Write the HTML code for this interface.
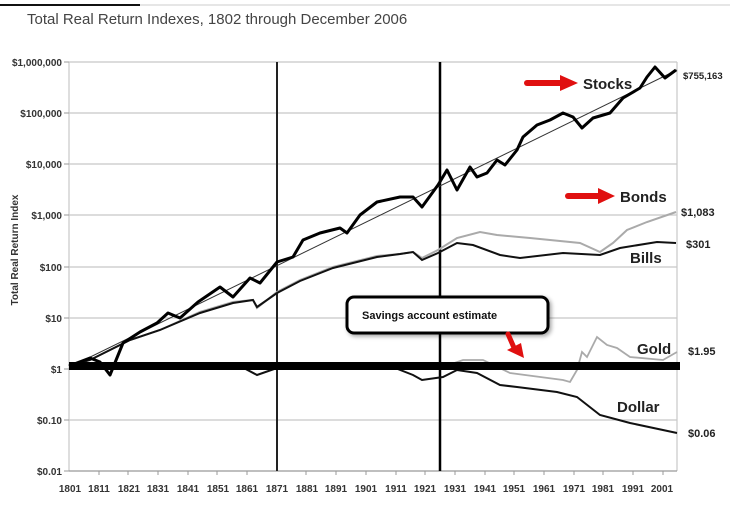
<!DOCTYPE html>
<html><head><meta charset="utf-8"><style>
html,body{margin:0;padding:0;background:#fff;}
svg{display:block;font-family:"Liberation Sans",Arial,sans-serif;}
</style></head><body>
<svg width="730" height="507" viewBox="0 0 730 507" xmlns="http://www.w3.org/2000/svg">
<defs><filter id="sh" x="-10%" y="-30%" width="130%" height="180%"><feDropShadow dx="2" dy="2" stdDeviation="2" flood-color="#000" flood-opacity="0.35"/></filter></defs>
<line x1="0" y1="5" x2="140" y2="5" stroke="#111" stroke-width="2"/>
<line x1="140" y1="5" x2="730" y2="5" stroke="#ccc" stroke-width="1"/>
<text x="27" y="24" font-size="15" fill="#444">Total Real Return Indexes, 1802 through December 2006</text>
<g stroke="#c8c8c8" stroke-width="1.2">
<line x1="69" y1="62" x2="677" y2="62"/><line x1="69" y1="113" x2="677" y2="113"/>
<line x1="69" y1="164" x2="677" y2="164"/><line x1="69" y1="215" x2="677" y2="215"/>
<line x1="69" y1="267" x2="677" y2="267"/><line x1="69" y1="318" x2="677" y2="318"/>
<line x1="69" y1="369" x2="677" y2="369"/><line x1="69" y1="420" x2="677" y2="420"/>
<line x1="69" y1="62" x2="69" y2="471"/><line x1="677" y1="62" x2="677" y2="471"/>
</g>
<line x1="69" y1="471" x2="677" y2="471" stroke="#999" stroke-width="1.2"/>
<g stroke="#999" stroke-width="1">
<line x1="64" y1="62" x2="69" y2="62"/><line x1="64" y1="113" x2="69" y2="113"/><line x1="64" y1="164" x2="69" y2="164"/><line x1="64" y1="215" x2="69" y2="215"/><line x1="64" y1="267" x2="69" y2="267"/><line x1="64" y1="318" x2="69" y2="318"/><line x1="64" y1="369" x2="69" y2="369"/><line x1="64" y1="420" x2="69" y2="420"/><line x1="64" y1="471" x2="69" y2="471"/>
<line x1="99" y1="471" x2="99" y2="475"/><line x1="128" y1="471" x2="128" y2="475"/><line x1="158" y1="471" x2="158" y2="475"/><line x1="188" y1="471" x2="188" y2="475"/><line x1="217" y1="471" x2="217" y2="475"/><line x1="247" y1="471" x2="247" y2="475"/><line x1="306" y1="471" x2="306" y2="475"/><line x1="336" y1="471" x2="336" y2="475"/><line x1="366" y1="471" x2="366" y2="475"/><line x1="396" y1="471" x2="396" y2="475"/><line x1="425" y1="471" x2="425" y2="475"/><line x1="455" y1="471" x2="455" y2="475"/><line x1="485" y1="471" x2="485" y2="475"/><line x1="514" y1="471" x2="514" y2="475"/><line x1="544" y1="471" x2="544" y2="475"/><line x1="574" y1="471" x2="574" y2="475"/><line x1="603" y1="471" x2="603" y2="475"/><line x1="633" y1="471" x2="633" y2="475"/><line x1="663" y1="471" x2="663" y2="475"/>
</g>
<g font-size="10" font-weight="bold" fill="#333" text-anchor="end">
<text x="62" y="66">$1,000,000</text><text x="62" y="117">$100,000</text><text x="62" y="168">$10,000</text><text x="62" y="219">$1,000</text><text x="62" y="271">$100</text><text x="62" y="322">$10</text><text x="62" y="373">$1</text><text x="62" y="424">$0.10</text><text x="62" y="475">$0.01</text>
</g>
<g font-size="10" font-weight="bold" fill="#333" text-anchor="middle">
<text x="70" y="492">1801</text><text x="99" y="492">1811</text><text x="129" y="492">1821</text><text x="158" y="492">1831</text><text x="188" y="492">1841</text><text x="218" y="492">1851</text><text x="247" y="492">1861</text><text x="277" y="492">1871</text><text x="307" y="492">1881</text><text x="336" y="492">1891</text><text x="366" y="492">1901</text><text x="396" y="492">1911</text><text x="425" y="492">1921</text><text x="455" y="492">1931</text><text x="485" y="492">1941</text><text x="514" y="492">1951</text><text x="544" y="492">1961</text><text x="574" y="492">1971</text><text x="603" y="492">1981</text><text x="633" y="492">1991</text><text x="662" y="492">2001</text>
</g>
<text transform="translate(18,250) rotate(-90)" font-size="10" font-weight="bold" fill="#333" text-anchor="middle">Total Real Return Index</text>
<line x1="277" y1="62" x2="277" y2="471" stroke="#222" stroke-width="2"/>
<line x1="440" y1="62" x2="440" y2="471" stroke="#000" stroke-width="2.5"/>
<line x1="80" y1="362" x2="677" y2="70" stroke="#333" stroke-width="1"/>
<polyline fill="none" stroke="#aaa" stroke-width="2" points="69,366 90,360 110,350 130,340 160,330 200,312 233,302 253,300 257,308 277,292 300,280 333,267 377,256 400,254 413,252 422,258 438,250 457,238 480,232 497,235 530,238 580,243 600,252 613,243 627,230 647,222 676,212"/>
<polyline fill="none" stroke="#111" stroke-width="2" points="69,366 90,360 110,350 130,340 160,330 200,313 233,303 253,300 257,307 277,293 300,281 333,268 377,257 400,254 413,252 422,260 438,253 457,243 473,245 500,255 520,258 563,253 600,255 620,248 657,242 676,243"/>
<polyline fill="none" stroke="#aaa" stroke-width="1.8" points="440,368 463,360 483,360 510,373 563,380 570,382 577,370 582,352 587,357 597,337 607,345 617,348 630,357 663,360 677,352"/>
<polyline fill="none" stroke="#111" stroke-width="2" points="240,366 257,375 277,368 390,366 413,375 422,380 443,377 457,370 477,373 500,385 517,387 557,392 577,397 600,415 630,423 677,433"/>
<polyline fill="none" stroke="#000" stroke-width="3" stroke-linejoin="round" points="69,366 90,358 100,362 110,375 123,343 140,332 157,323 168,313 180,318 198,302 220,287 233,297 250,278 260,283 277,262 293,257 303,240 320,233 340,228 347,233 360,215 377,202 400,197 413,197 422,207 438,185 447,170 457,190 470,167 477,177 487,173 497,160 505,165 517,150 523,137 537,125 550,120 563,113 573,117 582,128 593,118 610,113 623,98 640,88 647,77 655,67 665,78 676,70"/>
<line x1="69" y1="366" x2="680" y2="366" stroke="#000" stroke-width="8"/>
<rect x="347" y="297" width="201" height="36" rx="7" fill="#fff" stroke="#000" stroke-width="3" filter="url(#sh)"/>
<text x="362" y="319" font-size="11" font-weight="bold" fill="#111">Savings account estimate</text>
<g fill="#e01010" stroke="#e01010" stroke-linecap="round">
<line x1="508" y1="334" x2="515" y2="350" stroke-width="5"/>
<polygon points="507,350 524,358 521,343" stroke="none"/>
<line x1="527" y1="83" x2="562" y2="83" stroke-width="6"/>
<polygon points="560,75 578,83 560,91" stroke="none"/>
<line x1="568" y1="196" x2="600" y2="196" stroke-width="6"/>
<polygon points="598,188 615,196 598,204" stroke="none"/>
</g>
<g font-weight="bold" fill="#222" font-size="15">
<text x="583" y="89">Stocks</text><text x="620" y="202">Bonds</text><text x="630" y="263">Bills</text><text x="637" y="354">Gold</text><text x="617" y="412">Dollar</text>
</g>
<g font-weight="bold" fill="#222" font-size="11">
<text x="683" y="79" font-size="9.5">$755,163</text><text x="681" y="216">$1,083</text><text x="686" y="248">$301</text><text x="688" y="355">$1.95</text><text x="688" y="437">$0.06</text>
</g>
</svg>
</body></html>
